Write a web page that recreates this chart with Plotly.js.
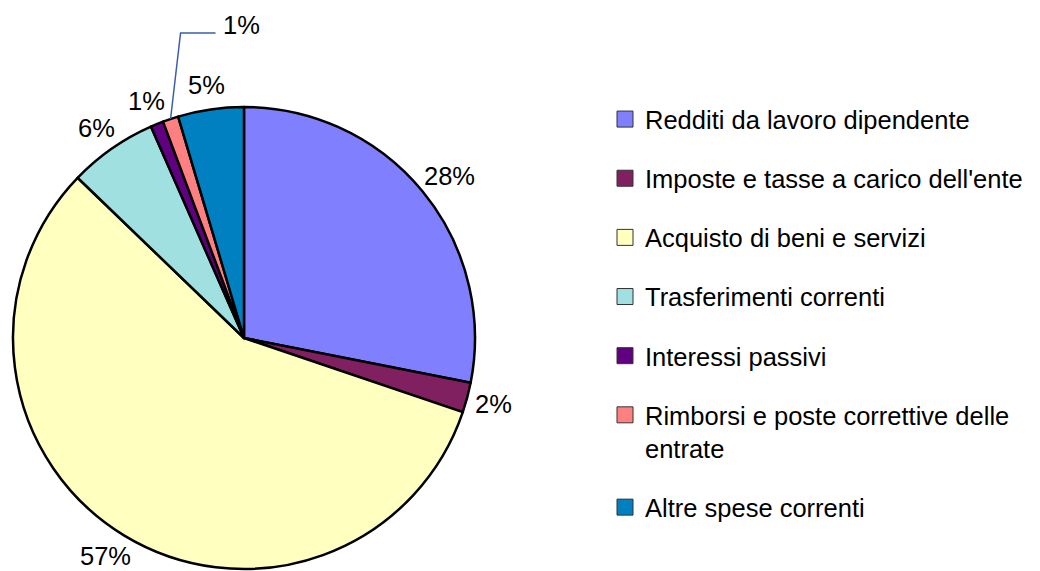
<!DOCTYPE html>
<html>
<head>
<meta charset="utf-8">
<script src="https://cdn.plot.ly/plotly-3.0.1.min.js"></script>
<style>html,body{margin:0;padding:0;background:#fff;}#chart{width:1040px;height:571px;}</style>
</head>
<body>
<div id="chart"></div>
<script>
const categories = [
  "Redditi da lavoro dipendente",
  "Imposte e tasse a carico dell'ente",
  "Acquisto di beni e servizi",
  "Trasferimenti correnti",
  "Interessi passivi",
  "Rimborsi e poste correttive delle<br>entrate",
  "Altre spese correnti"
];
const values = [28.1, 2.1, 57.0, 6.2, 0.9, 1.1, 4.6];
const colors = ["#8080FF", "#802060", "#FFFFC0", "#A0E0E0", "#600080", "#FF8080", "#0080C0"];

const W = 1040, H = 571;
const cx = 244, cy = 338, R = 231;
const FONT = 'Liberation Sans, Arial, sans-serif';
const FS = 25.5;
const domX = [(cx - R) / W, (cx + R) / W];
const domY = [(H - (cy + R)) / H, (H - (cy - R)) / H];

// slice whose label is drawn with a bent leader line
const leaderIdx = 5;

const total = values.reduce((a, b) => a + b, 0);
const annotations = [];
let leaderPt = null;
let cum = 0;
values.forEach((v, i) => {
  const ang = (cum + v / 2) / total * 2 * Math.PI;
  cum += v;
  const txt = Math.round(v / total * 100) + '%';
  const s = Math.sin(ang), c = Math.cos(ang);
  if (i === leaderIdx) {
    leaderPt = [cx + R * s, cy - R * c];
    return;
  }
  const rr = R + 12;
  const hw = txt.length * 0.6 * FS / 2, hh = FS / 2;
  const x = cx + rr * s + hw * s;
  const y = cy - rr * c - hh * c;
  annotations.push({
    xref: 'paper', yref: 'paper',
    x: x / W, y: (H - y) / H,
    xanchor: 'center', yanchor: 'middle', showarrow: false, text: txt,
    font: {family: FONT, size: FS, color: '#000'}
  });
});

const leaderTxt = Math.round(values[leaderIdx] / total * 100) + '%';
const lx = leaderPt[0], ly = leaderPt[1];
annotations.push({
  xref: 'paper', yref: 'paper', x: (lx + 50) / W, y: (H - 25) / H,
  xanchor: 'left', yanchor: 'middle', showarrow: false, text: leaderTxt,
  font: {family: FONT, size: FS, color: '#000'}
});

const pie = {
  type: 'pie',
  labels: categories,
  values: values,
  sort: false,
  direction: 'clockwise',
  rotation: 0,
  marker: {colors: colors, line: {color: '#000', width: 2.5}},
  textinfo: 'none',
  hoverinfo: 'label+percent',
  showlegend: false,
  domain: {x: domX, y: domY}
};

// legend entries (one per category) drawn by Plotly's legend
const legendTraces = categories.map((c, i) => ({
  type: 'scatter', mode: 'markers',
  x: [0], y: [0],
  name: c,
  legendgroup: 'g' + i,
  marker: {symbol: 'square', size: 16, color: colors[i], line: {color: '#333', width: 1}},
  hoverinfo: 'skip',
  showlegend: true
}));

const layout = {
  width: W, height: H,
  margin: {l: 0, r: 0, t: 0, b: 0},
  paper_bgcolor: '#fff',
  plot_bgcolor: 'rgba(0,0,0,0)',
  showlegend: true,
  font: {family: FONT, color: '#000'},
  xaxis: {visible: false, range: [10, 11], domain: [0.99, 1]},
  yaxis: {visible: false, range: [10, 11], domain: [0.99, 1]},
  legend: {
    x: 605 / W, y: (H - 96) / H, xanchor: 'left', yanchor: 'top',
    valign: 'top',
    traceorder: 'grouped',
    tracegroupgap: 23,
    font: {family: FONT, size: FS, color: '#000'},
    bgcolor: 'rgba(0,0,0,0)'
  },
  shapes: [{
    type: 'path', xref: 'paper', yref: 'paper',
    path: `M${lx / W},${(H - ly) / H} L${(lx + 10) / W},${(H - 33) / H} L${(lx + 45) / W},${(H - 33) / H}`,
    line: {color: '#3A5FA8', width: 1.5}
  }],
  annotations: annotations
};

Plotly.newPlot('chart', [pie].concat(legendTraces), layout, {displayModeBar: false, staticPlot: true});
</script>
</body>
</html>
